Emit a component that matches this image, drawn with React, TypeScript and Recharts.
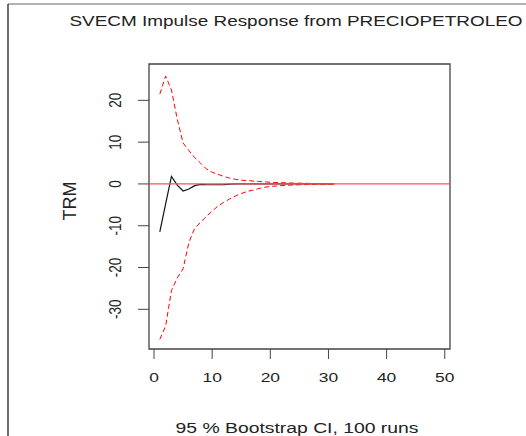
import React from 'react';
import {
  LineChart,
  Line,
  XAxis,
  YAxis,
  ReferenceLine,
  ReferenceArea,
} from 'recharts';

// horizons 1..31
const horizons = [
  1, 2, 3, 4, 5, 6, 7, 8, 9, 10, 11, 12, 13, 14, 15, 16,
  17, 18, 19, 20, 21, 22, 23, 24, 25, 26, 27, 28, 29, 30, 31,
];

const response = [
  -11.5, -4.8, 1.8, -0.3, -1.7, -1.2, -0.4, -0.1, -0.2, -0.2, -0.2, -0.15, -0.05, 0, 0, 0,
  0, 0, 0, 0, 0, 0, 0, 0, 0, 0, 0, 0, 0, 0, 0,
];

const upper = [
  21.5, 25.8, 22.5, 15.5, 9.8, 8, 6.3, 5, 3.6, 2.8, 2.3, 1.8, 1.4, 1.1, 0.9, 0.8,
  0.7, 0.6, 0.5, 0.4, 0.35, 0.3, 0.25, 0.2, 0.18, 0.15, 0.12, 0.1, 0.08, 0.06, 0.05,
];

const lower = [
  -37.2, -34, -25.5, -22.5, -20.3, -14, -10.6, -9.2, -7.8, -6.5, -5.3, -4.4, -3.6, -2.9, -2.3, -1.8,
  -1.5, -1.1, -0.8, -0.6, -0.5, -0.4, -0.3, -0.25, -0.2, -0.15, -0.12, -0.1, -0.08, -0.06, -0.05,
];

const xTicks = [0, 10, 20, 30, 40, 50];
const yTicks = [-30, -20, -10, 0, 10, 20];

const data = horizons.map((h, i) => ({
  h,
  resp: response[i],
  up: upper[i],
  lo: lower[i],
}));

const FONT = '"Liberation Sans", Arial, sans-serif';
const X_DOM: [number, number] = [-0.86, 50.9];
const Y_DOM: [number, number] = [-39.5, 28.7];
// the source picture is stretched sideways
const SX = 1.29;

const XTick = ({ x, payload }: any) => (
  <text
    transform={`translate(${x}, 377) scale(${SX}, 1)`}
    textAnchor="middle"
    dominantBaseline="central"
    fontSize={13.5}
    fontFamily={FONT}
    fill="#222"
  >
    {payload.value}
  </text>
);

const YTick = ({ y, payload }: any) => (
  <text
    transform={`translate(115, ${y}) scale(${SX}, 1) rotate(-90)`}
    textAnchor="middle"
    dominantBaseline="central"
    fontSize={13.5}
    fontFamily={FONT}
    fill="#222"
  >
    {payload.value}
  </text>
);

export default function App() {
  return (
    <div style={{ position: 'absolute', left: 0, top: 0, width: 526, height: 436, overflow: 'hidden', background: '#fff' }}>
      <LineChart
        width={526}
        height={436}
        data={data}
        margin={{ top: 64, right: 76, left: 89, bottom: 57 }}
      >
        <XAxis
          dataKey="h"
          type="number"
          domain={X_DOM}
          ticks={xTicks}
          allowDataOverflow
          axisLine={false}
          tickSize={10}
          tickLine={{ stroke: '#444' }}
          height={30}
          tick={<XTick />}
        />
        <YAxis
          type="number"
          domain={Y_DOM}
          ticks={yTicks}
          allowDataOverflow
          axisLine={false}
          tickSize={11}
          tickLine={{ stroke: '#444' }}
          width={60}
          tick={<YTick />}
        />
        <ReferenceArea
          x1={X_DOM[0]}
          x2={X_DOM[1]}
          y1={Y_DOM[0]}
          y2={Y_DOM[1]}
          fill="none"
          stroke="#444"
          strokeWidth={1.3}
          ifOverflow="extendDomain"
        />
        <Line dataKey="resp" stroke="#111" strokeWidth={1.2} dot={false} isAnimationActive={false} />
        <Line dataKey="up" stroke="#ff0000" strokeWidth={1} strokeDasharray="5 3" dot={false} isAnimationActive={false} />
        <Line dataKey="lo" stroke="#ff0000" strokeWidth={1} strokeDasharray="5 3" dot={false} isAnimationActive={false} />
        <ReferenceLine y={0} stroke="#ff5050" strokeWidth={1.3} />
      </LineChart>
      <svg
        width={526}
        height={436}
        style={{ position: 'absolute', left: 0, top: 0, pointerEvents: 'none' }}
      >
        <line x1={8} y1={4} x2={526} y2={4} stroke="#999" strokeWidth={1.5} />
        <line x1={8} y1={4} x2={8} y2={436} stroke="#222" strokeWidth={1.3} />
        <text
          transform="translate(296, 26) scale(1.262, 1)"
          textAnchor="middle"
          fontSize={15}
          fontFamily={FONT}
          fill="#222"
        >
          SVECM Impulse Response from PRECIOPETROLEO
        </text>
        <text
          x={70}
          y={201}
          transform="rotate(-90, 70, 201)"
          textAnchor="middle"
          dominantBaseline="central"
          fontSize={18}
          fontFamily={FONT}
          fill="#222"
        >
          TRM
        </text>
        <text
          transform={`translate(297, 433) scale(${SX}, 1)`}
          textAnchor="middle"
          fontSize={15}
          fontFamily={FONT}
          fill="#222"
        >
          95 % Bootstrap CI,  100 runs
        </text>
      </svg>
    </div>
  );
}
